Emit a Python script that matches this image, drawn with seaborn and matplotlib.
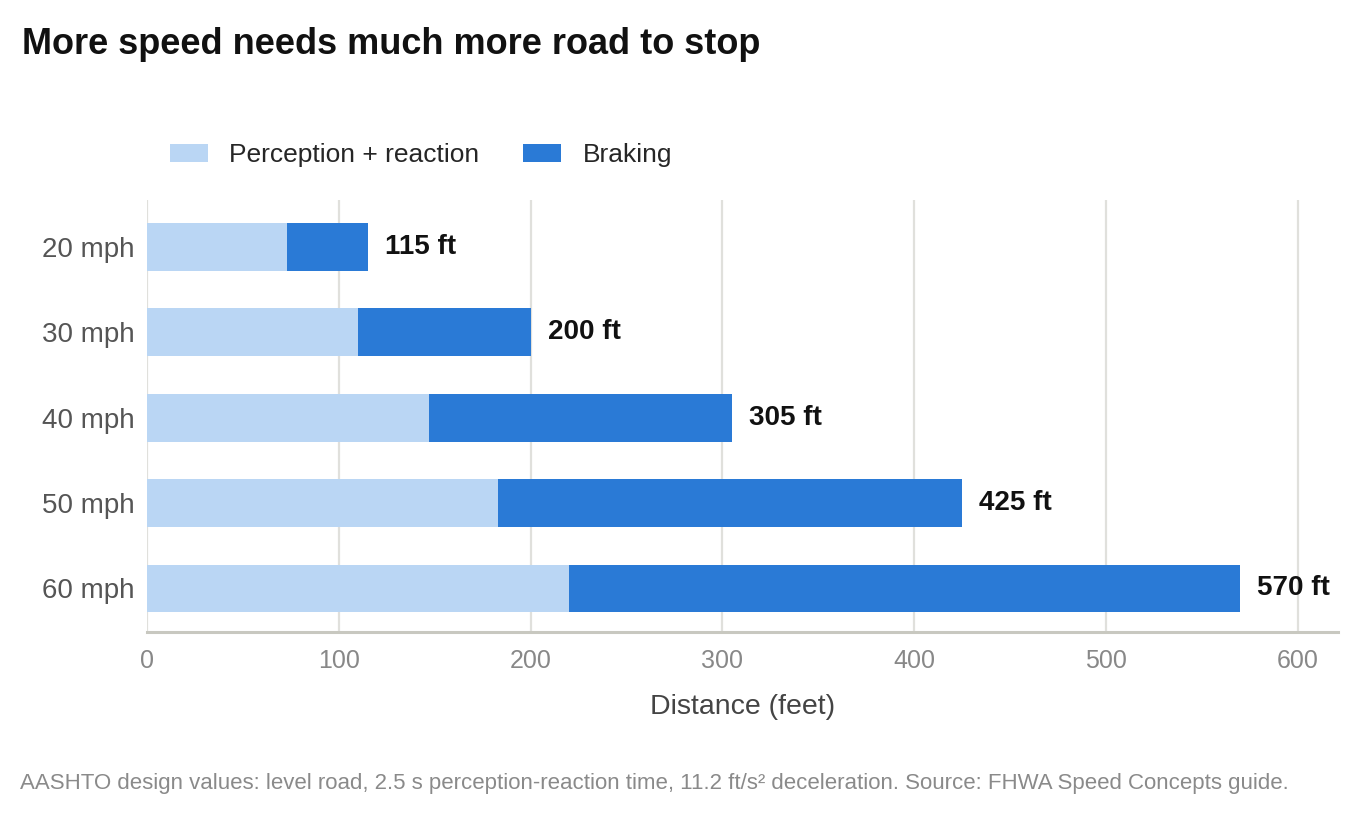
import matplotlib
matplotlib.use("Agg")
import matplotlib.pyplot as plt
import seaborn as sns
from matplotlib.patches import Patch

# =============================
# Data
# =============================
speeds = ["20 mph", "30 mph", "40 mph", "50 mph", "60 mph"]
perception_ft = [73, 110, 147, 183, 220]
total_ft = [115, 200, 305, 425, 570]
x_ticks = [0, 100, 200, 300, 400, 500, 600]

light_blue = "#bad6f4"
dark_blue = "#2a7ad6"

sns.set_theme(style="white")
plt.rcParams["font.family"] = ["Liberation Sans", "DejaVu Sans"]

fig = plt.figure(figsize=(13.56, 8.17), dpi=100)
ax = fig.add_axes([147 / 1356, 1 - 632 / 817, (1338 - 147) / 1356, (632 - 200) / 817])

# total bars in dark blue, perception drawn over them -> stacked look
sns.barplot(x=total_ft, y=speeds, color=dark_blue, orient="h", width=0.56,
            saturation=1, linewidth=0, ax=ax, zorder=3)
sns.barplot(x=perception_ft, y=speeds, color=light_blue, orient="h", width=0.56,
            saturation=1, linewidth=0, ax=ax, zorder=4)

ax.set_xlim(0, 621)
ax.set_ylim(4.51, -0.55)
ax.set_xticks(x_ticks)
ax.grid(axis="x", color="#e0e0dc", linewidth=1.6, zorder=0)
ax.grid(axis="y", visible=False)
ax.set_axisbelow(True)

for side in ["top", "right", "left"]:
    ax.spines[side].set_visible(False)
ax.spines["bottom"].set_color("#c8c8c0")
ax.spines["bottom"].set_linewidth(2.2)

ax.tick_params(axis="x", length=0, pad=12, labelsize=18, labelcolor="#888888")
ax.tick_params(axis="y", length=0, pad=9, labelsize=20, labelcolor="#555555")
ax.set_ylabel("")
ax.set_xlabel("Distance (feet)", fontsize=20.5, color="#444444", labelpad=15)

# total labels at bar ends
for i, t in enumerate(total_ft):
    ax.text(t + 9, i, f"{t} ft", va="center", ha="left", fontsize=20,
            fontweight="bold", color="#111111")

# legend
handles = [Patch(facecolor=light_blue, edgecolor="none"),
           Patch(facecolor=dark_blue, edgecolor="none")]
fig.legend(handles, ["Perception + reaction", "Braking"], ncol=2,
           loc="center left", bbox_to_anchor=(170 / 1356, 1 - 155 / 817),
           frameon=False, fontsize=19, handlelength=1.45, handleheight=0.65,
           handletextpad=0.8, columnspacing=1.65, borderpad=0, borderaxespad=0)

fig.text(22 / 1356, 1 - 45 / 817, "More speed needs much more road to stop",
         fontsize=26, fontweight="bold", color="#111111", va="center", ha="left")
fig.text(20 / 1356, 1 - 784 / 817,
         "AASHTO design values: level road, 2.5 s perception-reaction time, "
         "11.2 ft/s\u00b2 deceleration. Source: FHWA Speed Concepts guide.",
         fontsize=16, color="#8a8a8a", va="center", ha="left")

fig.savefig("out.png", dpi=100)
